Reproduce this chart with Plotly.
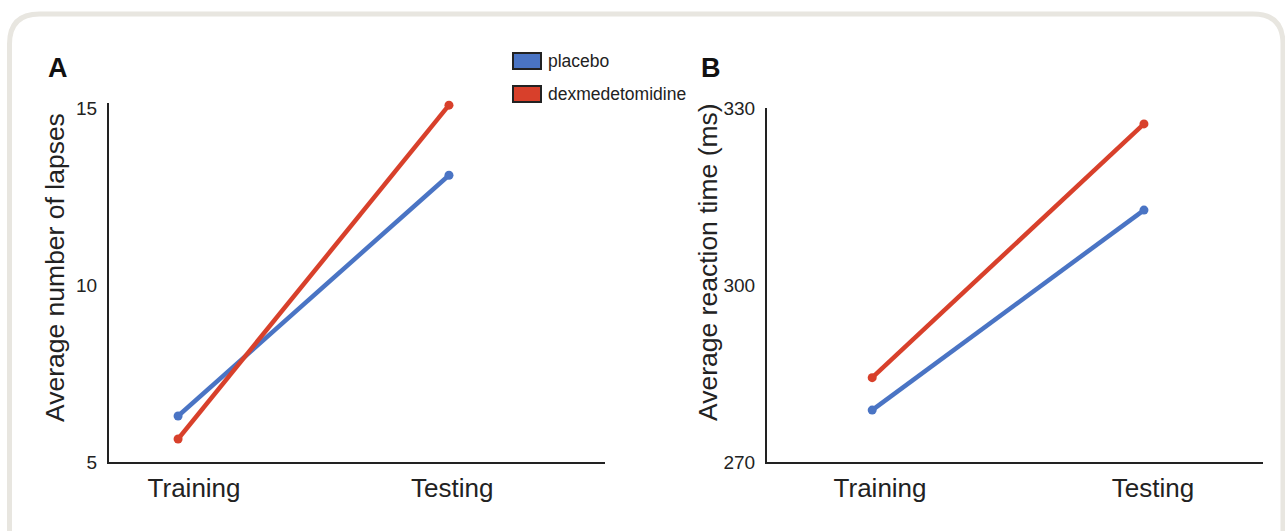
import plotly.graph_objects as go

# ---- data ----
phases = ["Training", "Testing"]
series_names = ["placebo", "dexmedetomidine"]
lapses_placebo = [6.3, 13.1]
lapses_dex = [5.65, 15.08]
rt_placebo = [278.8, 312.7]
rt_dex = [284.3, 327.3]
lapse_ticks = [5, 10, 15]
rt_ticks = [270, 300, 330]

colors = ["#4a74c4", "#d8402b"]
W, H = 1285, 531
FONT = "Liberation Sans, Arial, sans-serif"
TXT = "#222222"

fig = go.Figure()
xpos = list(range(len(phases)))

for vals, name, col in [(lapses_placebo, series_names[0], colors[0]),
                        (lapses_dex, series_names[1], colors[1])]:
    fig.add_trace(go.Scatter(x=xpos, y=vals, mode="lines+markers", name=name,
                             line=dict(color=col, width=4.5),
                             marker=dict(color=col, size=9), cliponaxis=False,
                             xaxis="x", yaxis="y", showlegend=False))
for vals, name, col in [(rt_placebo, series_names[0], colors[0]),
                        (rt_dex, series_names[1], colors[1])]:
    fig.add_trace(go.Scatter(x=xpos, y=vals, mode="lines+markers", name=name,
                             line=dict(color=col, width=4.5),
                             marker=dict(color=col, size=9), cliponaxis=False,
                             xaxis="x2", yaxis="y2", showlegend=False))

def px_x(p):
    return p / W

def px_y(p):
    return 1 - p / H

PPU_A = (462 - 108) / 10.0  # pixels per lapse unit
ydomA = [px_y(462), px_y(462 - 10.14 * PPU_A)]
ydomB = [px_y(462), px_y(108)]
base = dict(showgrid=False, zeroline=False, showline=True, automargin=False,
            linecolor="#222222", linewidth=2, ticks="")
yfont = dict(family=FONT, size=19, color=TXT)
xfont = dict(family=FONT, size=26, color=TXT)

fig.update_layout(
    width=W, height=H,
    margin=dict(l=0, r=0, t=0, b=0, pad=0, autoexpand=False),
    paper_bgcolor="white", plot_bgcolor="white",
    xaxis=dict(domain=[px_x(109), px_x(605)], range=[-0.255, 1.576],
               tickvals=[0.059, 1.012], ticktext=phases, tickfont=xfont,
               anchor="y", ticklabelstandoff=2, **base),
    yaxis=dict(domain=ydomA, range=[5, 15.14], tickvals=lapse_ticks, tickfont=yfont,
               anchor="x", ticklabelstandoff=6, **base),
    xaxis2=dict(domain=[px_x(767), px_x(1263)], range=[-0.387, 1.438],
                tickvals=[0.029, 1.033], ticktext=phases, tickfont=xfont,
                anchor="y2", ticklabelstandoff=2, **base),
    yaxis2=dict(domain=ydomB, range=[270, 330], tickvals=rt_ticks, tickfont=yfont,
                anchor="x2", ticklabelstandoff=6, **base),
    showlegend=False,
)

annotations = [
    dict(text="Average number of lapses", x=px_x(55), y=px_y(268), textangle=-90,
         font=dict(family=FONT, size=26.5, color=TXT)),
    dict(text="Average reaction time (ms)", x=px_x(708), y=px_y(262), textangle=-90,
         font=dict(family=FONT, size=26.5, color=TXT)),
    dict(text="<b>A</b>", x=px_x(58), y=px_y(68),
         font=dict(family=FONT, size=27, color="#111111")),
    dict(text="<b>B</b>", x=px_x(711), y=px_y(68),
         font=dict(family=FONT, size=27, color="#111111")),
]
for a in annotations:
    a.update(xref="paper", yref="paper", showarrow=False, xanchor="center", yanchor="middle")

# legend (boxes + labels)
shapes = []
for i, (name, col) in enumerate(zip(series_names, colors)):
    yc = 61 + 33 * i
    shapes.append(dict(type="rect", xref="paper", yref="paper",
                       x0=px_x(513), x1=px_x(541), y0=px_y(yc + 8), y1=px_y(yc - 8),
                       fillcolor=col, line=dict(color="#222222", width=2)))
    annotations.append(dict(text=name, x=px_x(546), y=px_y(yc), xref="paper", yref="paper",
                            showarrow=False, xanchor="left", yanchor="middle",
                            font=dict(family=FONT, size=17.5, color=TXT)))

# rounded frame
L, T, R, B, r = 9.5, 14, 1283, 560, 30
path = (f"M {px_x(L)},{px_y(B)} L {px_x(L)},{px_y(T + r)} "
        f"Q {px_x(L)},{px_y(T)} {px_x(L + r)},{px_y(T)} "
        f"L {px_x(R - r)},{px_y(T)} Q {px_x(R)},{px_y(T)} {px_x(R)},{px_y(T + r)} "
        f"L {px_x(R)},{px_y(B)}")
shapes.append(dict(type="path", xref="paper", yref="paper", path=path,
                   line=dict(color="#e8e6e0", width=5), layer="below"))

fig.update_layout(annotations=annotations, shapes=shapes)
fig.write_html("out.html", config={"displayModeBar": False},
               post_script="document.body.style.margin='0';document.body.style.overflow='hidden';")
